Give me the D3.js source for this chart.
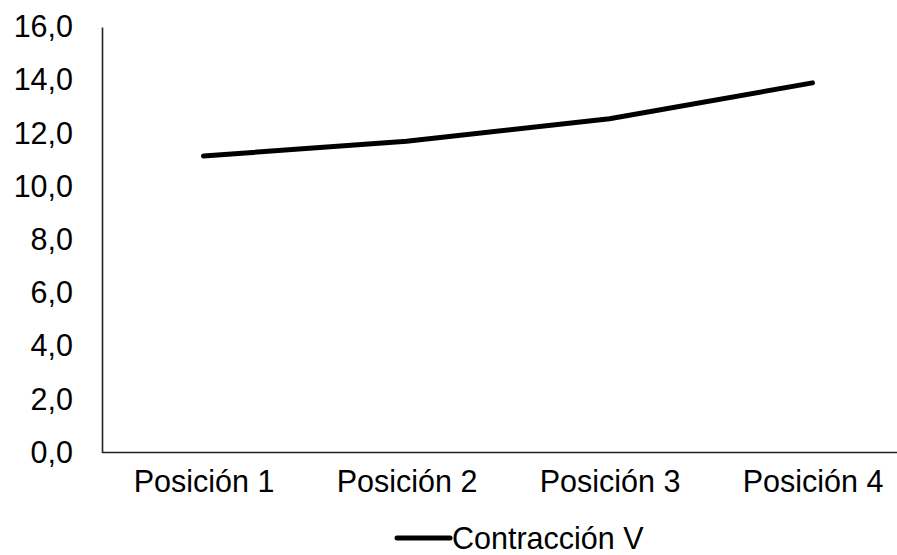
<!DOCTYPE html>
<html>
<head>
<meta charset="utf-8">
<script src="https://cdn.jsdelivr.net/npm/d3@7"></script>
<style>
  html, body { margin: 0; padding: 0; background: #fff; }
  svg { display: block; font-family: "Liberation Sans", Arial, sans-serif; }
</style>
</head>
<body>
<svg id="chart" width="897" height="555"></svg>
<script>
// Data
const categories = ["Posición 1", "Posición 2", "Posición 3", "Posición 4"];
const seriesName = "Contracción V";
const seriesValues = [11.15, 11.7, 12.55, 13.9];
const yTicks = [0, 2, 4, 6, 8, 10, 12, 14, 16];

const svg = d3.select("#chart");
const margin = { left: 102, top: 27, bottom: 452.5 };
const bandStep = 203;
const fontSize = 30.5;

const x = d3.scalePoint()
  .domain(categories)
  .range([margin.left + bandStep / 2, margin.left + bandStep * (categories.length - 0.5)]);

const y = d3.scaleLinear().domain([0, 16]).range([margin.bottom, margin.top]);

const fmt = v => d3.format(".1f")(v).replace(".", ",");

// Y axis: line only, labels right aligned
const yAxis = svg.append("g")
  .attr("transform", `translate(${margin.left},0)`)
  .call(d3.axisLeft(y).tickValues(yTicks).tickFormat(fmt).tickSize(0).tickPadding(29));
yAxis.select(".domain").attr("stroke", "#222").attr("stroke-width", 1.6);
yAxis.selectAll("text")
  .attr("font-size", fontSize)
  .attr("fill", "#000")
  .attr("font-family", "Liberation Sans, Arial, sans-serif");

// X axis
const xAxis = svg.append("g")
  .attr("transform", `translate(0,${margin.bottom})`)
  .call(d3.axisBottom(x).tickSize(0).tickPadding(18));
xAxis.select(".domain")
  .attr("d", `M${margin.left},0H${margin.left + bandStep * categories.length}`)
  .attr("stroke", "#222").attr("stroke-width", 1.6);
xAxis.selectAll("text")
  .attr("font-size", fontSize)
  .attr("fill", "#000")
  .attr("font-family", "Liberation Sans, Arial, sans-serif");

// Series line
const line = d3.line()
  .x((d, i) => x(categories[i]))
  .y(d => y(d));

svg.append("path")
  .datum(seriesValues)
  .attr("d", line)
  .attr("fill", "none")
  .attr("stroke", "#000")
  .attr("stroke-width", 5)
  .attr("stroke-linecap", "round")
  .attr("stroke-linejoin", "round");

// Legend
const legend = svg.append("g").attr("transform", "translate(397,538)");
legend.append("line")
  .attr("x1", 0).attr("x2", 53).attr("y1", 0).attr("y2", 0)
  .attr("stroke", "#000").attr("stroke-width", 5).attr("stroke-linecap", "round");
legend.append("text")
  .attr("x", 55).attr("y", 10.5)
  .attr("font-size", fontSize)
  .attr("fill", "#000")
  .text(seriesName);
</script>
</body>
</html>
